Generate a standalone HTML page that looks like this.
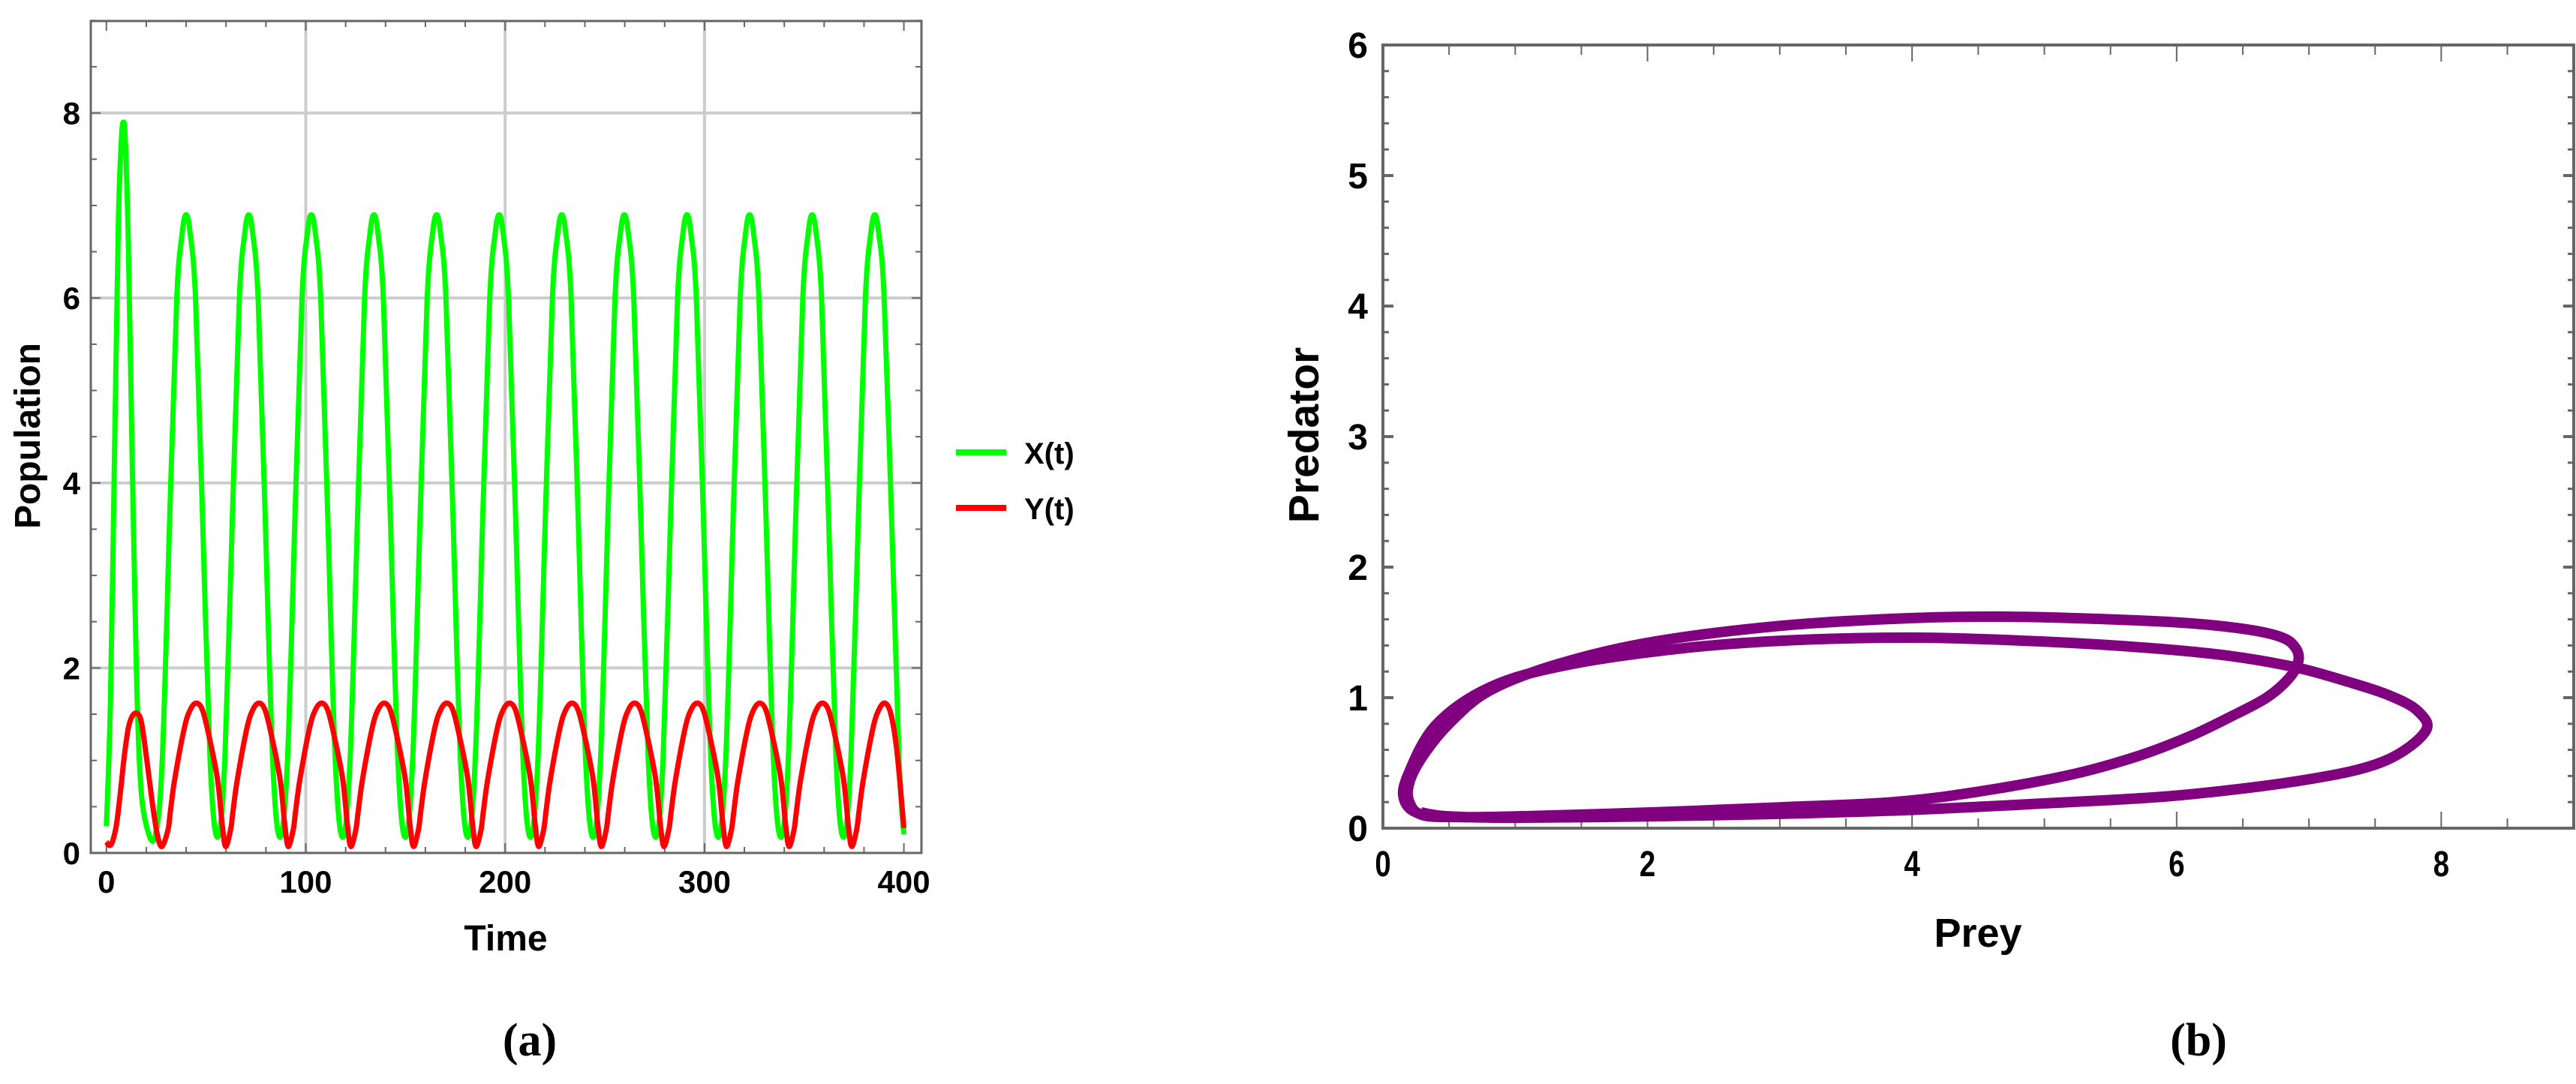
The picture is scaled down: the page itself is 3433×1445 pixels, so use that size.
<!DOCTYPE html>
<html><head><meta charset="utf-8"><style>
html,body{margin:0;padding:0;background:#fff;}
svg{display:block;}
text{font-family:"Liberation Sans",Arial,sans-serif;font-weight:bold;fill:#000;}
</style></head><body>
<svg id="fig" width="3433" height="1445" viewBox="0 0 3433 1445" xmlns="http://www.w3.org/2000/svg">
<defs>
<clipPath id="clipA"><rect x="121" y="28" width="1107" height="1109"/></clipPath>
<clipPath id="clipB"><rect x="1843" y="60" width="1587" height="1044"/></clipPath>
</defs>
<g id="panelA"></g>
<g id="panelB"></g>
</svg>
<script>
// ---- Panel (a) data ----
const xTicksA = [0, 100, 200, 300, 400];
const yTicksA = [0, 2, 4, 6, 8];
const preyTime = [0,2,4,6,7.5,8.5,9.5,11,13,15,17,20,24.3,
28,32,35.3,38,40,42,44.7,48,52,55.7,
59.4,63.4,66.7,69.4,71.4,73.4,76.1,79.4,83.4,87.1,
90.8,94.8,98.1,100.8,102.8,104.8,107.5,110.8,114.8,118.5,
122.2,126.2,129.5,132.2,134.2,136.2,138.9,142.2,146.2,149.9,
153.6,157.6,160.9,163.6,165.6,167.6,170.3,173.6,177.6,181.3,
185,189,192.3,195,197,199,201.7,205,209,212.7,
216.4,220.4,223.7,226.4,228.4,230.4,233.1,236.4,240.4,244.1,
247.8,251.8,255.1,257.8,259.8,261.8,264.5,267.8,271.8,275.5,
279.2,283.2,286.5,289.2,291.2,293.2,295.9,299.2,303.2,306.9,
310.6,314.6,317.9,320.6,322.6,324.6,327.3,330.6,334.6,338.3,
342,346,349.3,352,354,356,358.7,362,366,369.7,
373.4,377.4,380.7,383.4,385.4,387.4,390.1,394,397.6,400];
const preyValues = [0.29,1.6,4.2,6.8,7.7,7.9,7.7,6.6,4.2,2.0,0.8,0.3,0.17,
1.0,3.8,6.0,6.7,6.9,6.7,6.0,3.8,1.0,0.17,
1.0,3.8,6.0,6.7,6.9,6.7,6.0,3.8,1.0,0.17,
1.0,3.8,6.0,6.7,6.9,6.7,6.0,3.8,1.0,0.17,
1.0,3.8,6.0,6.7,6.9,6.7,6.0,3.8,1.0,0.17,
1.0,3.8,6.0,6.7,6.9,6.7,6.0,3.8,1.0,0.17,
1.0,3.8,6.0,6.7,6.9,6.7,6.0,3.8,1.0,0.17,
1.0,3.8,6.0,6.7,6.9,6.7,6.0,3.8,1.0,0.17,
1.0,3.8,6.0,6.7,6.9,6.7,6.0,3.8,1.0,0.17,
1.0,3.8,6.0,6.7,6.9,6.7,6.0,3.8,1.0,0.17,
1.0,3.8,6.0,6.7,6.9,6.7,6.0,3.8,1.0,0.17,
1.0,3.8,6.0,6.7,6.9,6.7,6.0,3.8,1.0,0.17,
1.0,3.8,6.0,6.7,6.9,6.7,6.0,3.5,1.0,0.2];
const predTime = [0,1.5,3,5,7,9,11,13,15.3,17.5,20,23,25.5,27.9,
30.9,32.1,34.3,39.1,42.1,45.1,48.1,51.1,55.7,58.1,59.8,
62.3,63.5,65.7,70.5,73.5,76.5,79.5,82.5,87.1,89.5,91.2,
93.7,94.9,97.1,101.9,104.9,107.9,110.9,113.9,118.5,120.9,122.6,
125.1,126.3,128.5,133.3,136.3,139.3,142.3,145.3,149.9,152.3,154,
156.5,157.7,159.9,164.7,167.7,170.7,173.7,176.7,181.3,183.7,185.4,
187.9,189.1,191.3,196.1,199.1,202.1,205.1,208.1,212.7,215.1,216.8,
219.3,220.5,222.7,227.5,230.5,233.5,236.5,239.5,244.1,246.5,248.2,
250.7,251.9,254.1,258.9,261.9,264.9,267.9,270.9,275.5,277.9,279.6,
282.1,283.3,285.5,290.3,293.3,296.3,299.3,302.3,306.9,309.3,311,
313.5,314.7,316.9,321.7,324.7,327.7,330.7,333.7,338.3,340.7,342.4,
344.9,346.1,348.3,353.1,356.1,359.1,362.1,365.1,369.7,372.1,373.8,
376.3,377.5,379.7,384.5,387.5,390.5,393.5,396.5,400];
const predValues = [0.12,0.08,0.12,0.3,0.65,1.05,1.35,1.48,1.51,1.42,1.05,0.55,0.2,0.07,
0.25,0.45,0.8,1.35,1.55,1.62,1.55,1.3,0.8,0.3,0.07,
0.25,0.45,0.8,1.35,1.55,1.62,1.55,1.3,0.8,0.3,0.07,
0.25,0.45,0.8,1.35,1.55,1.62,1.55,1.3,0.8,0.3,0.07,
0.25,0.45,0.8,1.35,1.55,1.62,1.55,1.3,0.8,0.3,0.07,
0.25,0.45,0.8,1.35,1.55,1.62,1.55,1.3,0.8,0.3,0.07,
0.25,0.45,0.8,1.35,1.55,1.62,1.55,1.3,0.8,0.3,0.07,
0.25,0.45,0.8,1.35,1.55,1.62,1.55,1.3,0.8,0.3,0.07,
0.25,0.45,0.8,1.35,1.55,1.62,1.55,1.3,0.8,0.3,0.07,
0.25,0.45,0.8,1.35,1.55,1.62,1.55,1.3,0.8,0.3,0.07,
0.25,0.45,0.8,1.35,1.55,1.62,1.55,1.3,0.8,0.3,0.07,
0.25,0.45,0.8,1.35,1.55,1.62,1.55,1.3,0.8,0.3,0.07,
0.25,0.45,0.8,1.35,1.55,1.62,1.5,1.1,0.27];
// ---- Panel (b) data ----
const xTicksB = [0, 2, 4, 6, 8];
const yTicksB = [0, 1, 2, 3, 4, 5, 6];
const phasePrey = [0.29,0.5,1,2,3,4,5,6,6.97,7.56,7.88,7.82,7.6,7.3,6.91,6.4,5.8,5,4.04,3.1,2.28,1.39,0.81,0.4,0.19,0.16,0.28,
0.6,1,2,3,3.86,4.5,5.2,5.7,6.09,6.4,6.68,6.85,6.92,6.9,6.8,6.55,6.1,5.5,4.74,4,3,2,1.3,0.8,0.5,0.3,0.2,0.2,0.3,
0.6,1,2,3,3.86,4.5,5.2,5.7,6.09,6.4,6.68,6.85,6.92,6.9,6.8,6.55,6.1,5.5,4.74,4,3,2,1.3,0.8,0.5,0.3,0.2,0.2,0.3,0.6];
const phasePred = [0.12,0.09,0.08,0.09,0.11,0.14,0.19,0.25,0.37,0.51,0.74,0.9,1.02,1.12,1.23,1.32,1.38,1.43,1.46,1.44,1.38,1.25,1.08,0.79,0.41,0.22,0.11,
0.085,0.09,0.12,0.16,0.2,0.28,0.41,0.55,0.70,0.85,1.0,1.15,1.28,1.38,1.46,1.52,1.57,1.6,1.62,1.61,1.55,1.42,1.25,1.05,0.8,0.55,0.35,0.2,0.1,
0.085,0.09,0.12,0.16,0.2,0.28,0.41,0.55,0.70,0.85,1.0,1.15,1.28,1.38,1.46,1.52,1.57,1.6,1.62,1.61,1.55,1.42,1.25,1.05,0.8,0.55,0.35,0.2,0.1,0.085];

const NS = "http://www.w3.org/2000/svg";
function mk(parent, tag, attrs, txt){
  const e = document.createElementNS(NS, tag);
  for (const k in attrs) e.setAttribute(k, attrs[k]);
  if (txt !== undefined) e.textContent = txt;
  parent.appendChild(e); return e;
}
function smoothPath(pts){
  let d = "M" + pts[0][0].toFixed(1) + "," + pts[0][1].toFixed(1);
  for (let i = 0; i < pts.length - 1; i++){
    const p0 = pts[Math.max(0,i-1)], p1 = pts[i], p2 = pts[i+1], p3 = pts[Math.min(pts.length-1,i+2)];
    const c1x = p1[0] + (p2[0]-p0[0])/6, c1y = p1[1] + (p2[1]-p0[1])/6;
    const c2x = p2[0] - (p3[0]-p1[0])/6, c2y = p2[1] - (p3[1]-p1[1])/6;
    d += "C" + c1x.toFixed(1)+","+c1y.toFixed(1)+" "+c2x.toFixed(1)+","+c2y.toFixed(1)+" "+p2[0].toFixed(1)+","+p2[1].toFixed(1);
  }
  return d;
}
const AX = "#666666";

// ===== Panel A =====
(function(){
  const g = document.getElementById('panelA');
  const L=121, R=1228, T=28, B=1137;
  const xs = t => 141.8 + 2.657*t;
  const ys = v => 1137 - 123.3*v;
  for (const t of [100,200,300]){
    const ln = mk(g,'line',{x1:xs(t),x2:xs(t),y1:T,y2:B,stroke:'#cccccc','stroke-width':4});
    
    
  }
  for (const v of [2,4,6,8]){
    const ln = mk(g,'line',{x1:L,x2:R,y1:ys(v),y2:ys(v),stroke:'#cccccc','stroke-width':4});
    
    
  }
  for (let t=0; t<=400; t+=20){
    const major = t%100===0, len = major?13:8;
    mk(g,'line',{x1:xs(t),x2:xs(t),y1:B,y2:B-len,stroke:AX,'stroke-width':2});
    mk(g,'line',{x1:xs(t),x2:xs(t),y1:T,y2:T+len,stroke:AX,'stroke-width':2});
  }
  for (let v=0; v<=9; v+=0.5){
    const major = v%2===0, len = major?13:8;
    mk(g,'line',{x1:L,x2:L+len,y1:ys(v),y2:ys(v),stroke:AX,'stroke-width':2});
    mk(g,'line',{x1:R,x2:R-len,y1:ys(v),y2:ys(v),stroke:AX,'stroke-width':2});
  }
  const fr = mk(g,'rect',{x:L,y:T,width:R-L,height:B-T,fill:'none',stroke:AX,'stroke-width':3});
  
  
  const cg = mk(g,'g',{'clip-path':'url(#clipA)'});
  const gp = mk(cg,'path',{d:smoothPath(preyTime.map((t,i)=>[xs(t),ys(preyValues[i])])),fill:'none',stroke:'#00ff00','stroke-width':7,'stroke-linejoin':'round'});
  
  
  const rp = mk(cg,'path',{d:smoothPath(predTime.map((t,i)=>[xs(t),ys(predValues[i])])),fill:'none',stroke:'#ff0000','stroke-width':7,'stroke-linejoin':'round'});
  
  
  for (const t of xTicksA){
    const tx = mk(g,'text',{x:xs(t),y:1190,'font-size':42,'text-anchor':'middle'},String(t));
    
    
  }
  for (const v of yTicksA){
    const tx = mk(g,'text',{x:107,y:ys(v)+15,'font-size':42,'text-anchor':'end'},String(v));
    
    
  }
  const xt = mk(g,'text',{x:674,y:1267,'font-size':48,'text-anchor':'middle'},'Time');
  
  
  const yt = mk(g,'text',{x:0,y:0,'font-size':48,'text-anchor':'middle',transform:'translate(53,581) rotate(-90)'},'Population');
  
  
  const lg = mk(g,'g',{});
  
  
  const l1 = mk(lg,'line',{x1:1274,x2:1341,y1:603,y2:603,stroke:'#00ff00','stroke-width':8});
  
  
  const t1 = mk(lg,'text',{x:1365,y:618,'font-size':40},'X(t)');
  
  
  const l2 = mk(lg,'line',{x1:1274,x2:1341,y1:677,y2:677,stroke:'#ff0000','stroke-width':8});
  
  
  const t2 = mk(lg,'text',{x:1365,y:692,'font-size':40},'Y(t)');
  
  
  const cap = mk(g,'text',{x:706,y:1407,'font-size':62,'text-anchor':'middle',style:'font-family:"Liberation Serif",serif;font-weight:bold'},'(a)');
  
  
})();

// ===== Panel B =====
(function(){
  const g = document.getElementById('panelB');
  const L=1843, R=3430, T=60, B=1104;
  const xs = p => 1843 + 176.3*p;
  const ys = q => 1104 - 174*q;
  for (let k=0; k<=18; k++){
    const p = k*0.5, major = k%4===0, len = major?22:13;
    mk(g,'line',{x1:xs(p),x2:xs(p),y1:B,y2:B-len,stroke:AX,'stroke-width':2});
    mk(g,'line',{x1:xs(p),x2:xs(p),y1:T,y2:T+len,stroke:AX,'stroke-width':2});
  }
  for (let k=0; k<=30; k++){
    const q = k*0.2, major = k%5===0, len = major?14:8;
    mk(g,'line',{x1:L,x2:L+len,y1:ys(q),y2:ys(q),stroke:AX,'stroke-width':major?4:3});
    mk(g,'line',{x1:R,x2:R-len,y1:ys(q),y2:ys(q),stroke:AX,'stroke-width':major?4:3});
  }
  const fr = mk(g,'rect',{x:L,y:T,width:R-L,height:B-T,fill:'none',stroke:AX,'stroke-width':4});
  
  
  const cg = mk(g,'g',{'clip-path':'url(#clipB)'});
  const pp = mk(cg,'path',{d:smoothPath(phasePrey.map((p,i)=>[xs(p),ys(phasePred[i])])),fill:'none',stroke:'#800080','stroke-width':14,'stroke-linejoin':'round'});
  
  
  for (const p of xTicksB){
    const tx = mk(g,'text',{x:0,y:0,'font-size':48,'text-anchor':'middle',transform:'translate('+xs(p)+',1168) scale(0.8,1)'},String(p));
    
    
  }
  for (const q of yTicksB){
    const tx = mk(g,'text',{x:1823,y:ys(q)+17,'font-size':48,'text-anchor':'end'},String(q));
    
    
  }
  const xt = mk(g,'text',{x:2636,y:1262,'font-size':54,'text-anchor':'middle'},'Prey');
  
  
  const yt = mk(g,'text',{x:0,y:0,'font-size':57,'text-anchor':'middle',transform:'translate(1757,580) rotate(-90)'},'Predator');
  
  
  const cap = mk(g,'text',{x:2930,y:1407,'font-size':62,'text-anchor':'middle',style:'font-family:"Liberation Serif",serif;font-weight:bold'},'(b)');
  
  
})();
</script>
</body></html>
